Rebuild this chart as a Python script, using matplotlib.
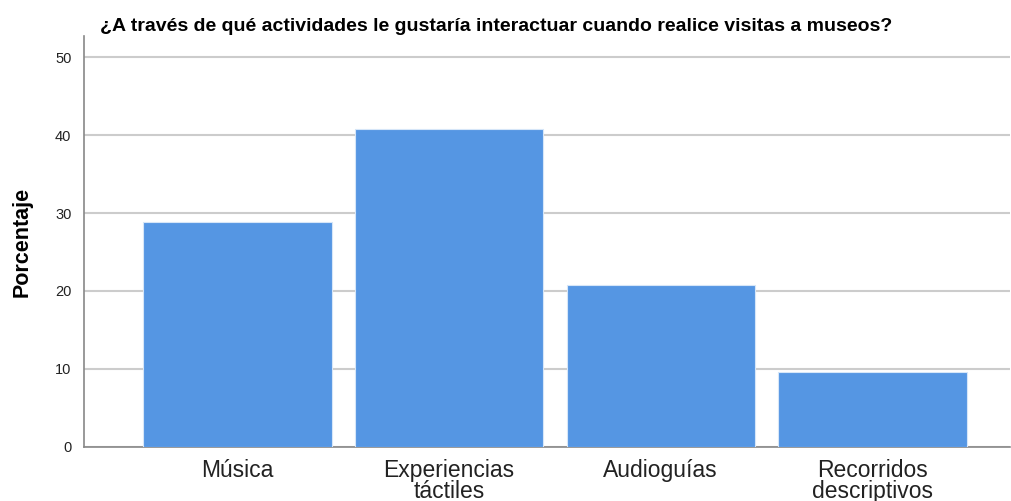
import matplotlib
matplotlib.use("Agg")
import matplotlib.pyplot as plt
import numpy as np

plt.rcParams['font.family'] = ['Liberation Sans', 'DejaVu Sans']

categories = ["Música", "Experiencias\ntáctiles", "Audioguías", "Recorridos\ndescriptivos"]
percentages = [28.8, 40.8, 20.8, 9.6]
yticks = [0, 10, 20, 30, 40, 50]

fig = plt.figure(figsize=(10.12, 5.01), dpi=100)
ax = fig.add_axes([0.083, 0.108, 0.915, 0.82])

x = np.arange(len(categories))
ax.bar(x, percentages, width=0.89, color="#5596E3", edgecolor="#d6e6f8",
       linewidth=0.8, zorder=3)

ax.set_xlim(-0.725, 3.65)
ax.set_ylim(0, 52.7)
ax.set_yticks(yticks)
ax.set_yticklabels([str(t) for t in yticks], fontsize=10.5, color="#222222")
ax.set_xticks(x)
ax.set_xticklabels(categories, fontsize=16.5, color="#222222", linespacing=0.85)
ax.tick_params(axis="both", length=0)
ax.tick_params(axis="y", pad=9)
ax.tick_params(axis="x", pad=9)

ax.yaxis.grid(True, color="#cccccc", linewidth=1.5, zorder=0)
ax.set_axisbelow(True)
for side in ["top", "right"]:
    ax.spines[side].set_visible(False)
for side in ["left", "bottom"]:
    ax.spines[side].set_color("#888888")
    ax.spines[side].set_linewidth(1.2)

ax.set_ylabel("Porcentaje", fontsize=15.5, fontweight="bold", labelpad=16)
fig.text(0.099, 0.948, "¿A través de qué actividades le gustaría interactuar cuando realice visitas a museos?",
         fontsize=14, fontweight="bold", ha="left", va="center")

fig.savefig("out.png", dpi=100)
